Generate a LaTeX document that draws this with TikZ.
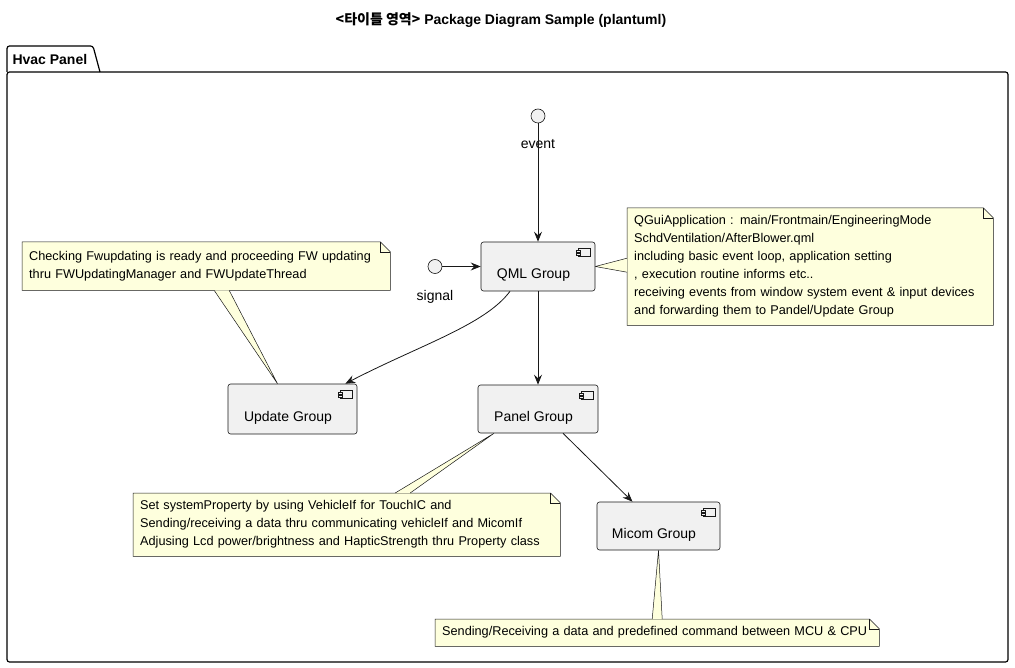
\documentclass[tikz,border=0pt]{standalone}
\usepackage{fontspec}
\setmainfont{Liberation Sans}
\newfontfamily\krfont{Noto Sans CJK KR}
\usetikzlibrary{positioning,backgrounds,arrows.meta}

\definecolor{compfill}{HTML}{F1F1F1}
\definecolor{notefill}{HTML}{FEFFDD}
\definecolor{umlline}{HTML}{181818}

\tikzset{
  comp/.style={draw=umlline, fill=compfill, line width=0.6pt, rounded corners=2.5pt,
    font=\fontsize{14}{16}\selectfont, text height=25pt, text depth=0pt,
    inner sep=0pt, execute at end node=\hspace{9pt}},
  iface/.style={circle, draw=umlline, fill=compfill, line width=0.6pt,
    minimum size=14pt, inner sep=0pt},
  ilabel/.style={font=\fontsize{14}{16}\selectfont, yshift=-13pt},
  note/.style={anchor=north west, align=left, inner xsep=7pt, inner ysep=0pt,
    font=\fontsize{12.7}{18}\selectfont},
  noteline/.style={draw=umlline, line width=0.5pt},
  icon/.style={draw=umlline, fill=compfill, line width=0.5pt},
  pkg/.style={draw=black, line width=1.2pt, rounded corners=2.5pt},
  flow/.style={draw=umlline, line width=0.8pt},
  >={Stealth[length=10pt,width=8pt,inset=3.5pt]}
}

\newcommand{\compicon}[1]{%
  \draw[icon] ([xshift=-17pt,yshift=-7pt]#1.north east) rectangle ([xshift=-5pt,yshift=-15pt]#1.north east);
  \draw[icon] ([xshift=-19pt,yshift=-9pt]#1.north east) rectangle ([xshift=-15pt,yshift=-11pt]#1.north east);
  \draw[icon] ([xshift=-19pt,yshift=-12pt]#1.north east) rectangle ([xshift=-15pt,yshift=-14pt]#1.north east);}

\newcommand{\notebox}[1]{%
  \filldraw[noteline, fill=notefill] (#1.south west) -- (#1.north west) -- ([xshift=-10pt]#1.north east)
    -- ([yshift=-10pt]#1.north east) -- (#1.south east) -- cycle;
  \draw[noteline] ([xshift=-10pt]#1.north east) -- ([xshift=-10pt,yshift=-10pt]#1.north east)
    -- ([yshift=-10pt]#1.north east);}

\newcommand{\notetail}[3]{%
  \fill[notefill] (#1) -- (#2) -- (#3) -- cycle;
  \draw[noteline] (#2) -- (#1) -- (#3);}

\begin{document}
\begin{tikzpicture}[x=1pt, y=-1pt]
  \useasboundingbox (0,0) rectangle (1015,668);

  \node[font=\bfseries\fontsize{14}{16}\selectfont] (title) at (501,20)
    {{\krfont<타이틀 영역>} Package Diagram Sample (plantuml)};

  \draw[pkg] (7,72) |- (93,46) -- (100,72);
  \draw[pkg] (7,72) rectangle (1008,662);
  \node[font=\bfseries\fontsize{14}{16}\selectfont, anchor=west] (pkgname) at (9,59) {Hvac Panel};

  \node[iface, label={[ilabel]below:event}] (ev) at (538,116) {};
  \node[iface, label={[ilabel]below:signal}] (sig) at (435,266.5) {};
  \node[comp, minimum width=114pt, minimum height=49pt] (qml) at (538,266.5) {QML Group};
  \node[comp, minimum width=129pt, minimum height=50pt] (upd) at (292.5,409) {Update Group};
  \node[comp, minimum width=120pt, minimum height=48pt] (pnl) at (538,409) {Panel Group};
  \node[comp, minimum width=123pt, minimum height=48pt] (mcm) at (658.5,526) {Micom Group};

  \compicon{qml}
  \compicon{upd}
  \compicon{pnl}
  \compicon{mcm}

  \node[note, text width=352pt, minimum height=117pt] (qmlnote) at (627,208)
    {QGuiApplication : main/Frontmain/EngineeringMode\\
     SchdVentilation/AfterBlower.qml\\
     including basic event loop, application setting\\
     , execution routine informs etc..\\
     receiving events from window system event \& input devices\\
     and forwarding them to Pandel/Update Group};
  \node[note, text width=354pt, minimum height=48pt] (updnote) at (22,242)
    {Checking Fwupdating is ready and proceeding FW updating\\
     thru FWUpdatingManager and FWUpdateThread};
  \node[note, text width=413pt, minimum height=63pt] (pnlnote) at (133,493)
    {Set systemProperty by using VehicleIf for TouchIC and\\
     Sending/receiving a data thru communicating vehicleIf and MicomIf\\
     Adjusing Lcd power/brightness and HapticStrength thru Property class};
  \node[note, text width=430pt, minimum height=27pt] (mcmnote) at (435,619)
    {Sending/Receiving a data and predefined command between MCU \& CPU};

  \begin{scope}[on background layer]
    \fill[white] (0,0) rectangle (1015,668);
    \notebox{qmlnote}
    \notetail{qml.east}{[yshift=8.5pt]qmlnote.west}{[yshift=-5.5pt]qmlnote.west}
    \notebox{updnote}
    \notetail{[xshift=-15pt]upd.north}{[xshift=8pt]updnote.south}{[xshift=23pt]updnote.south}
    \notebox{pnlnote}
    \notetail{[xshift=-44pt]pnl.south}{[xshift=48.5pt]pnlnote.north}{[xshift=63.5pt]pnlnote.north}
    \notebox{mcmnote}
    \notetail{mcm.south}{[xshift=-5pt]mcmnote.north}{[xshift=5pt]mcmnote.north}
  \end{scope}

  \draw[flow, ->] (ev) to (qml);
  \draw[flow, ->] (sig) to (qml);
  \draw[flow, ->] (qml) to (pnl);
  \draw[flow, ->] ([xshift=-28pt]qml.south) .. controls (485,325) and (420,345) .. ([xshift=-12pt]upd.north east);
  \draw[flow, ->] ([xshift=25pt]pnl.south) to ([xshift=-26pt]mcm.north);

\end{tikzpicture}
\end{document}
